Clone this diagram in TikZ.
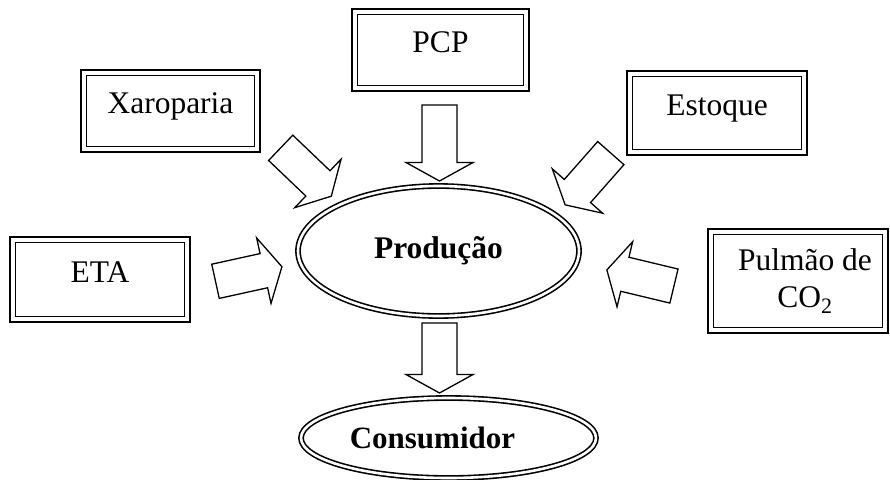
\documentclass[tikz,border=0pt]{standalone}
\usepackage{fontspec}
\setmainfont{Liberation Serif}
\usetikzlibrary{shapes.geometric}
\newcommand{\innerframe}[1]{\draw[line width=1.3pt] ([shift={(5.5,5.5)}]#1.north west) rectangle ([shift={(-5.5,-5.5)}]#1.south east);}
\tikzset{
  dbox/.style={draw, line width=2.4pt, inner sep=0pt, outer sep=0pt,
    font=\fontsize{31.5}{37}\selectfont, text height=15pt, text depth=10pt},
  dell/.style={ellipse, draw, line width=1.6pt, double=white, double distance=2.6pt,
    inner sep=0pt, outer sep=0pt},
  pics/blockarrow/.style={code={
    \draw[line width=1.3pt, line join=miter, fill=white]
      (-#1/2,-17.5) -- (#1/2-18.5,-17.5) -- (#1/2-18.5,-33.5) -- (#1/2,0)
      -- (#1/2-18.5,33.5) -- (#1/2-18.5,17.5) -- (-#1/2,17.5) -- cycle;}}
}
\begin{document}
\begin{tikzpicture}[x=1pt,y=-1pt]
\fill[white] (0,0) rectangle (890,479);
\useasboundingbox (0,0) rectangle (890,479);

% boxes
\node[dbox, minimum width=179, minimum height=82] (xar) at (170.5,111) {Xaroparia};
\node[dbox, minimum width=177, minimum height=82] (pcp) at (440.5,50) {PCP};
\node[dbox, minimum width=180, minimum height=84] (est) at (717,113) {Estoque};
\node[dbox, minimum width=180, minimum height=85] (eta) at (100,279.5) {ETA};
\node[draw, line width=2.4pt, inner sep=0pt, outer sep=0pt, minimum width=180, minimum height=104,
      align=center, font=\fontsize{31.5}{37}\selectfont] (pul) at (798,281)
      {\hspace*{14pt}Pulmão de\\\hspace*{14pt}CO\textsubscript{2}};
\innerframe{xar}
\innerframe{pcp}
\innerframe{est}
\innerframe{eta}
\innerframe{pul}

% ellipses
\node[dell, minimum width=281, minimum height=130, font=\fontsize{31.5}{37}\selectfont\bfseries]
  (prod) at (438.5,251) {Produção};
\node[dell, minimum width=295, minimum height=80, font=\fontsize{31}{36}\selectfont\bfseries]
  (cons) at (448.5,438) {Consumidor\hspace*{32pt}};

% block arrows
\pic[rotate=-43.7] at (306,172) {blockarrow=70};
\pic[rotate=-90] at (439.5,143) {blockarrow=76};
\pic[rotate=-131.4] at (588,179) {blockarrow=69};
\pic[rotate=12.4] at (248.7,274) {blockarrow=68};
\pic[rotate=166.5] at (640.4,278) {blockarrow=69};
\pic[rotate=-90] at (439.5,358) {blockarrow=70};
\end{tikzpicture}
\end{document}
